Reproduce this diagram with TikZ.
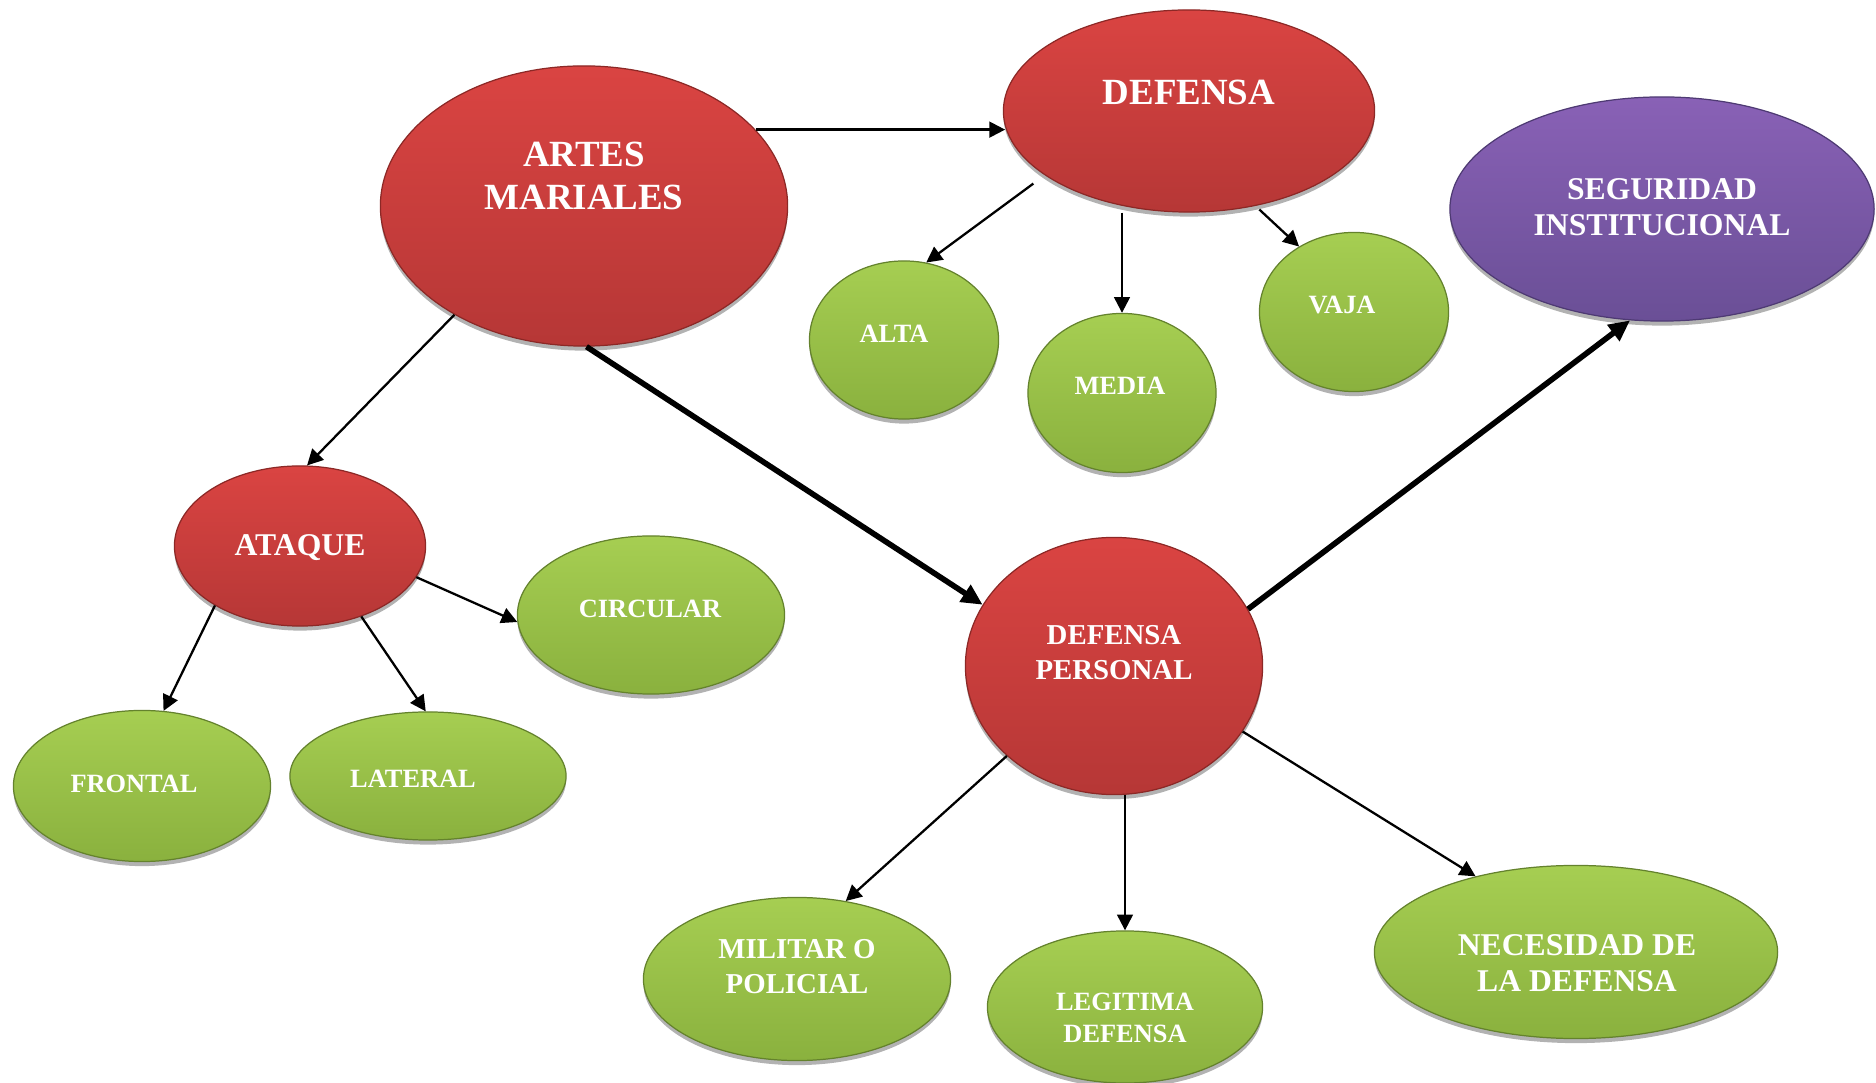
\documentclass[tikz,border=0pt]{standalone}
\usepackage{fontspec}
\setmainfont{Liberation Serif}
\usepackage{tikz}
\usetikzlibrary{
    shapes.geometric,
    arrows.meta,
    shadows
}
\definecolor{Rtop}{RGB}{218, 68, 66}
\definecolor{Rbot}{RGB}{182, 55, 54}
\definecolor{Redge}{RGB}{140, 40, 38}
\definecolor{Gtop}{RGB}{166, 206, 82}
\definecolor{Gbot}{RGB}{138, 177, 62}
\definecolor{Gedge}{RGB}{100, 130, 45}
\definecolor{Ptop}{RGB}{137, 97, 182}
\definecolor{Pbot}{RGB}{106, 79, 150}
\definecolor{Pedge}{RGB}{78, 58, 115}
\tikzset{
    ball/.style={
        ellipse, inner sep=0pt, line width=0.35pt,
        drop shadow={shadow xshift=0pt, shadow yshift=-1.3pt, opacity=0.3, fill=black}
    },
    rball/.style={ball, draw=Redge, top color=Rtop, bottom color=Rbot},
    gball/.style={ball, draw=Gedge, top color=Gtop, bottom color=Gbot},
    pball/.style={ball, draw=Pedge, top color=Ptop, bottom color=Pbot},
    btxt/.style={text=white, align=center, inner sep=0pt},
    txtL/.style={btxt, font=\fontsize{10.5}{12.2}\selectfont\bfseries},
    txtM/.style={btxt, font=\fontsize{9}{10.4}\selectfont\bfseries},
    txtP/.style={btxt, font=\fontsize{8.2}{10}\selectfont\bfseries},
    txtS/.style={btxt, font=\fontsize{7.5}{9.2}\selectfont\bfseries},
    arr/.style={-{Triangle[length=4.5pt, width=4.5pt]}, line width=0.65pt, black},
    tarr/.style={-{Triangle[length=6pt, width=5.5pt]}, line width=1.6pt, black},
}

\begin{document}
\begin{tikzpicture}[x=0.01cm, y=-0.01cm]
    \useasboundingbox (0,0) rectangle (1876,1083);

    % ellipses
    \node [rball, minimum width=4.07cm, minimum height=2.80cm] (artes) at (584,206) {};
    \node [rball, minimum width=3.71cm, minimum height=2.02cm] (defensa) at (1189,111) {};
    \node [pball, minimum width=4.24cm, minimum height=2.24cm] (seg) at (1662,209) {};
    \node [gball, minimum width=1.89cm, minimum height=1.58cm] (alta) at (904,340) {};
    \node [gball, minimum width=1.88cm, minimum height=1.59cm] (media) at (1122,393) {};
    \node [gball, minimum width=1.89cm, minimum height=1.59cm] (vaja) at (1354,312) {};
    \node [rball, minimum width=2.51cm, minimum height=1.60cm] (ataque) at (300,546) {};
    \node [gball, minimum width=2.67cm, minimum height=1.58cm] (circular) at (651,615) {};
    \node [gball, minimum width=2.57cm, minimum height=1.51cm] (frontal) at (142,786) {};
    \node [gball, minimum width=2.76cm, minimum height=1.28cm] (lateral) at (428,776) {};
    \node [rball, minimum width=2.97cm, minimum height=2.57cm] (dp) at (1114,666) {};
    \node [gball, minimum width=3.07cm, minimum height=1.63cm] (militar) at (797,979) {};
    \node [gball, minimum width=2.75cm, minimum height=1.52cm] (legitima) at (1125,1007) {};
    \node [gball, minimum width=4.03cm, minimum height=1.73cm] (necesidad) at (1576,952) {};

    % texts
    \node [txtL] (artes-t) at (584,176) {ARTES\\MARIALES};
    \node [txtL] (defensa-t) at (1189,92) {DEFENSA};
    \node [txtM] (seg-t) at (1662,207) {SEGURIDAD\\INSTITUCIONAL};
    \node [txtS] (alta-t) at (894,334) {ALTA};
    \node [txtS] (media-t) at (1120,386) {MEDIA};
    \node [txtS] (vaja-t) at (1342,305) {VAJA};
    \node [txtM] (ataque-t) at (300,548) {ATAQUE};
    \node [txtS] (circular-t) at (650,609) {CIRCULAR};
    \node [txtS] (frontal-t) at (134,784) {FRONTAL};
    \node [txtS] (lateral-t) at (413,779) {LATERAL};
    \node [txtP] (dp-t) at (1114,653) {DEFENSA\\PERSONAL};
    \node [txtP] (militar-t) at (797,967) {MILITAR O\\POLICIAL};
    \node [txtS] (legitima-t) at (1125,1018) {LEGITIMA\\DEFENSA};
    \node [txtM] (necesidad-t) at (1577,963) {NECESIDAD DE\\LA DEFENSA};

    % connectors
    \draw [arr] (artes.24) -- (artes.24 -| defensa.185);
    \draw [arr] (artes.220) -- (ataque.85);
    \draw [tarr] (artes.-89) -- (dp.155);
    \draw [arr, shorten <=4pt] (defensa.204) -- (alta.74);
    \draw [arr] (media.north |- defensa.south) -- (media.north);
    \draw [arr, shorten <=1.5pt] (defensa.-55) -- (vaja.130);
    \draw [arr] (ataque.215) -- (frontal.74);
    \draw [arr] (ataque.-49) -- (lateral.92);
    \draw [arr] (ataque.-15) -- (circular.183);
    \draw [tarr] (dp.23) -- (seg.254);
    \draw [arr] (dp.220) -- (militar.58);
    \draw [arr] (legitima.north |- dp.south) -- (legitima.north);
    \draw [arr] (dp.-27) -- (necesidad.143);

\end{tikzpicture}
\end{document}
